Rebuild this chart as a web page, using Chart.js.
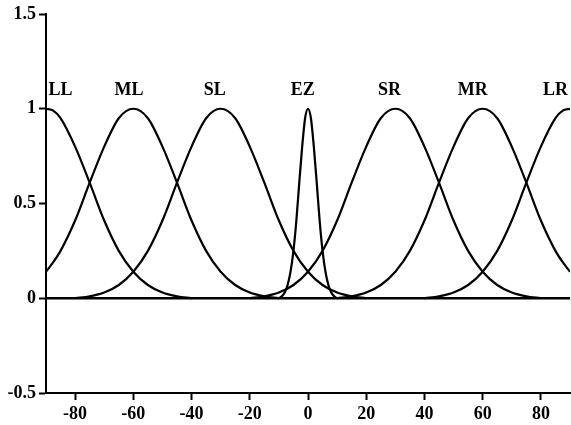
<!DOCTYPE html>
<html>
<head>
<meta charset="utf-8">
<script src="https://cdn.jsdelivr.net/npm/chart.js@4/dist/chart.umd.min.js"></script>
<style>
  html, body { margin: 0; padding: 0; background: #fff; }
  canvas { display: block; }
</style>
</head>
<body>
<canvas id="c" width="571" height="425"></canvas>
<script>
// Membership functions of the seven fuzzy sets over the input range [-90, 90]
const setNames = ['LL', 'ML', 'SL', 'EZ', 'SR', 'MR', 'LR'];
const labelX = [-85, -61.5, -32, -1.8, 28, 56.6, 85];
const labelY = 1.095;

const xTicks = [-80, -60, -40, -20, 0, 20, 40, 60, 80];
const yTicks = [-0.5, 0, 0.5, 1, 1.5];

// sample positions and degrees of membership for each set
const llX = [-90, -87.5, -85, -80, -75, -70, -65, -60, -55, -50, -45, -40];
const llY = [1, 0.99, 0.95, 0.80, 0.61, 0.41, 0.25, 0.14, 0.07, 0.03, 0.01, 0];

const mlX = [-90, -87.5, -85, -80, -75, -70, -65, -60, -55, -50, -45, -40, -35, -30, -25, -20, -15, -10];
const mlY = [0.14, 0.19, 0.25, 0.41, 0.61, 0.80, 0.95, 1, 0.95, 0.80, 0.61, 0.41, 0.25, 0.14, 0.07, 0.03, 0.01, 0];

const slX = [-80, -75, -70, -65, -60, -55, -50, -45, -40, -35, -30, -25, -20, -15, -10, -5, 0, 5, 10, 15, 20];
const slY = [0, 0.01, 0.03, 0.07, 0.14, 0.25, 0.41, 0.61, 0.80, 0.95, 1, 0.95, 0.80, 0.61, 0.41, 0.25, 0.14, 0.07, 0.03, 0.01, 0];

const ezX = [-10, -9, -8, -7, -6, -5, -4, -3, -2, -1, 0, 1, 2, 3, 4, 5, 6, 7, 8, 9, 10];
const ezY = [0, 0.01, 0.03, 0.07, 0.14, 0.25, 0.41, 0.61, 0.80, 0.95, 1, 0.95, 0.80, 0.61, 0.41, 0.25, 0.14, 0.07, 0.03, 0.01, 0];

const srX = [-20, -15, -10, -5, 0, 5, 10, 15, 20, 25, 30, 35, 40, 45, 50, 55, 60, 65, 70, 75, 80];
const srY = [0, 0.01, 0.03, 0.07, 0.14, 0.25, 0.41, 0.61, 0.80, 0.95, 1, 0.95, 0.80, 0.61, 0.41, 0.25, 0.14, 0.07, 0.03, 0.01, 0];

const mrX = [10, 15, 20, 25, 30, 35, 40, 45, 50, 55, 60, 65, 70, 75, 80, 85, 87.5, 90];
const mrY = [0, 0.01, 0.03, 0.07, 0.14, 0.25, 0.41, 0.61, 0.80, 0.95, 1, 0.95, 0.80, 0.61, 0.41, 0.25, 0.19, 0.14];

const lrX = [40, 45, 50, 55, 60, 65, 70, 75, 80, 85, 87.5, 90];
const lrY = [0, 0.01, 0.03, 0.07, 0.14, 0.25, 0.41, 0.61, 0.80, 0.95, 0.99, 1];

const baseX = [-90, 90];
const baseY = [0, 0];

const curves = [[llX, llY], [mlX, mlY], [slX, slY], [ezX, ezY], [srX, srY], [mrX, mrY], [lrX, lrY]];

const pts = (xs, ys) => xs.map((x, i) => ({ x: x, y: ys[i] }));

const datasets = curves.map((c, i) => ({
  label: setNames[i],
  data: pts(c[0], c[1]),
  borderColor: '#000',
  borderWidth: 2.2,
  pointRadius: 0,
  fill: false,
  cubicInterpolationMode: 'monotone'
}));
datasets.push({
  label: 'zero',
  data: pts(baseX, baseY),
  borderColor: '#000',
  borderWidth: 2.4,
  pointRadius: 0,
  fill: false
});

const FONT_FAMILY = '"Liberation Serif", "Times New Roman", serif';
const serif = { family: FONT_FAMILY, size: 18, weight: 'bold' };

// writes the set names above the peaks
const setLabels = {
  id: 'setLabels',
  afterDatasetsDraw(chart) {
    const ctx = chart.ctx;
    const xs = chart.scales.x, ys = chart.scales.y;
    ctx.save();
    ctx.fillStyle = '#000';
    ctx.font = 'bold 18px ' + FONT_FAMILY;
    ctx.textAlign = 'center';
    ctx.textBaseline = 'middle';
    setNames.forEach((n, i) => {
      ctx.fillText(n, xs.getPixelForValue(labelX[i]), ys.getPixelForValue(labelY));
    });
    ctx.restore();
  }
};

new Chart(document.getElementById('c'), {
  type: 'line',
  data: { datasets: datasets },
  options: {
    responsive: false,
    animation: false,
    layout: { padding: { top: 14, right: 1, left: 0, bottom: 0 } },
    plugins: { legend: { display: false }, tooltip: { enabled: false } },
    scales: {
      x: {
        type: 'linear',
        min: -90,
        max: 90,
        afterBuildTicks: s => { s.ticks = xTicks.map(v => ({ value: v })); },
        afterFit: s => { s.height = 32; },
        grid: { display: true, drawOnChartArea: false, drawTicks: true, tickLength: 7, tickWidth: 2, tickColor: '#000' },
        border: { display: true, color: '#000', width: 2 },
        ticks: { color: '#000', font: serif, padding: 4, maxRotation: 0, callback: v => String(v) }
      },
      y: {
        type: 'linear',
        min: -0.5,
        max: 1.5,
        afterBuildTicks: s => { s.ticks = yTicks.map(v => ({ value: v })); },
        afterFit: s => { s.width = 46; },
        grid: { display: true, drawOnChartArea: false, drawTicks: true, tickLength: 7, tickWidth: 2, tickColor: '#000' },
        border: { display: true, color: '#000', width: 2 },
        ticks: { color: '#000', font: serif, padding: 3, callback: v => String(v) }
      }
    }
  },
  plugins: [setLabels]
});
</script>
</body>
</html>
